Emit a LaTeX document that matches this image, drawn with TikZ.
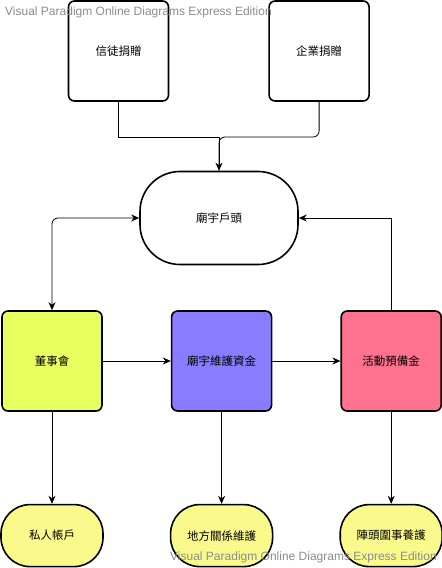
\documentclass[tikz,border=0pt]{standalone}
\usepackage{fontspec}
\setmainfont{Liberation Sans}
\newfontfamily\cjk{Noto Sans CJK TC}
\usetikzlibrary{positioning,arrows.meta}

\definecolor{boardgreen}{RGB}{232,255,96}
\definecolor{fundpurple}{RGB}{138,124,255}
\definecolor{eventpink}{RGB}{255,114,142}
\definecolor{useyellow}{RGB}{250,250,140}

\begin{document}
\begin{tikzpicture}[
    x=1pt, y=-1pt,
    node distance=68pt, % gap between the boxes
    box/.style={rectangle, draw, line width=1.6pt, rounded corners=6pt, minimum width=100pt, minimum height=100pt, font=\cjk\fontsize{11.5}{14}\selectfont},
    useoval/.style={rectangle, draw, line width=1.6pt, rounded corners=29pt, minimum width=102pt, minimum height=62pt, fill=useyellow, font=\cjk\fontsize{11.5}{14}\selectfont},
    arrow/.style={-{Stealth[length=8pt,width=7pt]}, line width=0.8pt},
    twoway/.style={{Stealth[length=8pt,width=7pt]}-{Stealth[length=8pt,width=7pt]}, line width=0.8pt},
    watermark/.style={anchor=west, text=black!45, font=\fontsize{12}{14}\selectfont, inner sep=0pt}
]
\path[use as bounding box] (0,0) rectangle (442,568);

% donations
\node[box] (believer) at (118.5,51) {信徒捐贈};
\node[box, right=99pt of believer] (company) {企業捐贈};

% temple account
\node[rectangle, draw, line width=1.6pt, rounded corners=40pt, minimum width=158pt, minimum height=93pt, font=\cjk\fontsize{11.5}{14}\selectfont] (temple) at (219,218) {廟宇戶頭};

% funds
\node[box, fill=boardgreen] (board) at (52,361) {董事會};
\node[box, fill=fundpurple, right=of board] (upkeep) {廟宇維護資金};
\node[box, fill=eventpink, right=of upkeep] (reserve) {活動預備金};

% uses
\node[useoval, below=92pt of board] (private) {私人帳戶};
\node[useoval, below=92pt of upkeep] (local) {地方關係維護};
\node[useoval, below=92pt of reserve] (troupe) {陣頭圍事養護};

\coordinate (merge) at (temple.north |- 0,137);
\draw[line width=0.8pt] (believer.south) |- (merge);
\draw[line width=0.8pt, rounded corners=6pt] (company.south) |- (merge) -- (temple.north);
\draw[arrow] (merge) -- (temple.north);
\draw[twoway, rounded corners=6pt] (temple.west) -| (board.north);
\draw[arrow] (reserve.north) |- (temple.east);
\draw[arrow] (board) -- (upkeep);
\draw[arrow] (upkeep) -- (reserve);
\draw[arrow] (board) -- (private);
\draw[arrow] (upkeep) -- (local);
\draw[arrow] (reserve) -- (troupe);

\node[watermark] (mark1) at (5,12) {Visual Paradigm Online Diagrams Express Edition};
\node[watermark] (mark2) at (170,557) {Visual Paradigm Online Diagrams Express Edition};
\end{tikzpicture}
\end{document}
